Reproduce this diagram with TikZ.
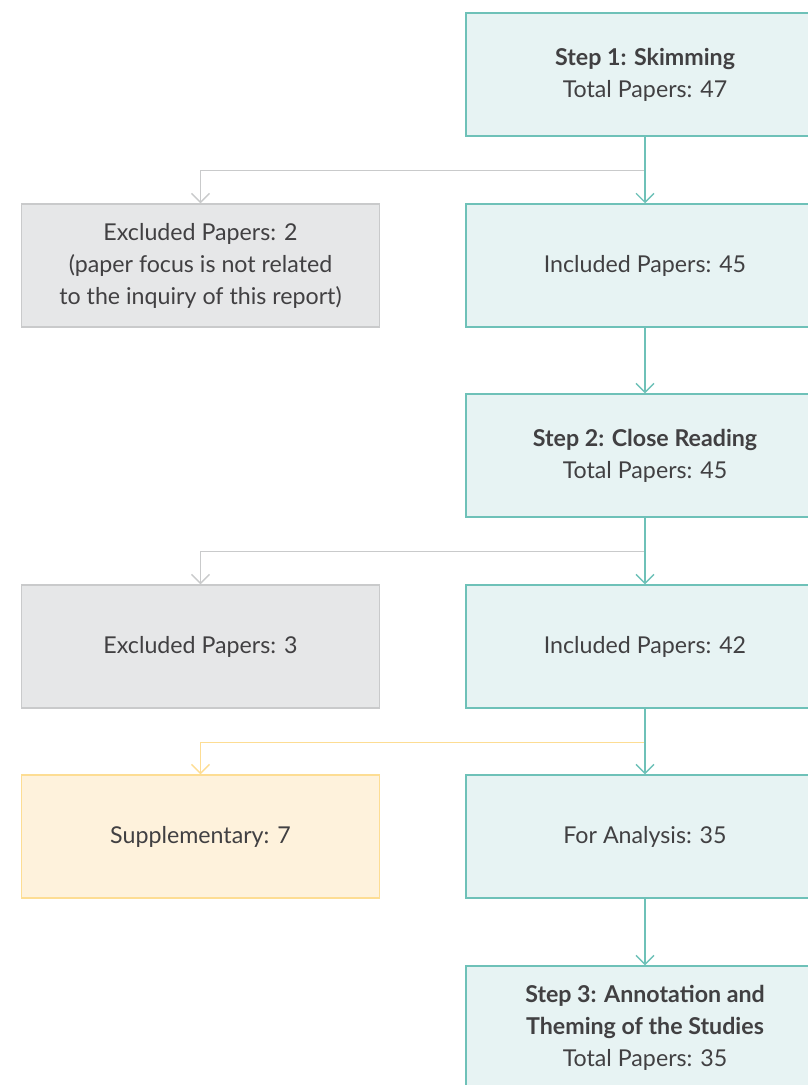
\documentclass[tikz,border=0pt]{standalone}
\usepackage{fontspec}
\setmainfont{Lato}
\usetikzlibrary{arrows.meta}
\definecolor{tealline}{HTML}{6EC1B8}
\definecolor{tealfill}{HTML}{E7F3F3}
\definecolor{greyline}{HTML}{C9CACB}
\definecolor{greyfill}{HTML}{E6E7E8}
\definecolor{yelline}{HTML}{FDDD93}
\definecolor{yelfill}{HTML}{FEF2DC}
\definecolor{inktext}{HTML}{414042}

\begin{document}
\begin{tikzpicture}[x=1pt, y=1pt,
    box/.style={rectangle, minimum width=358pt, minimum height=123pt, line width=1.5pt,
                align=center, text=inktext, inner sep=0pt,
                font=\fontsize{23.2}{32}\selectfont},
    stepbox/.style={box, draw=tealline, fill=tealfill},
    exclbox/.style={box, draw=greyline, fill=greyfill},
    suppbox/.style={box, draw=yelline, fill=yelfill},
    flow/.style={draw=tealline, line width=1.3pt, -{Straight Barb[length=9pt, width=18pt]}},
    side/.style={line width=1.3pt, -{Straight Barb[length=9pt, width=18pt]}}]
    \useasboundingbox (0,0) rectangle (808,-1085);
    \clip (0,0) rectangle (808,-1085);

    \node (S1)[stepbox] at (645, -74.5) {\textbf{Step 1: Skimming}\\Total Papers: 47};
    \node (I1)[stepbox] at (645, -265.5) {Included Papers: 45};
    \node (E1)[exclbox] at (200.5, -265.5) {Excluded Papers: 2\\(paper focus is not related\\to the inquiry of this report)};
    \node (S2)[stepbox] at (645, -455.5) {\textbf{Step 2: Close Reading}\\Total Papers: 45};
    \node (I2)[stepbox] at (645, -646.5) {Included Papers: 42};
    \node (E2)[exclbox] at (200.5, -646.5) {Excluded Papers: 3};
    \node (A1)[stepbox] at (645, -836.5) {For Analysis: 35};
    \node (X1)[suppbox] at (200.5, -836.5) {Supplementary: 7};
    \node (S3)[stepbox] at (645, -1027.5) {\textbf{Step 3: Annotation and}\\\textbf{Theming of the Studies}\\Total Papers: 35};

    \draw[side, greyline] (S1.south) ++(0,-34) -| (E1.north);
    \draw[side, greyline] (S2.south) ++(0,-34) -| (E2.north);
    \draw[side, yelline] (I2.south) ++(0,-34) -| (X1.north);

    \draw[flow] (S1) -- (I1);
    \draw[flow] (I1) -- (S2);
    \draw[flow] (S2) -- (I2);
    \draw[flow] (I2) -- (A1);
    \draw[flow] (A1) -- (S3);

\end{tikzpicture}
\end{document}
